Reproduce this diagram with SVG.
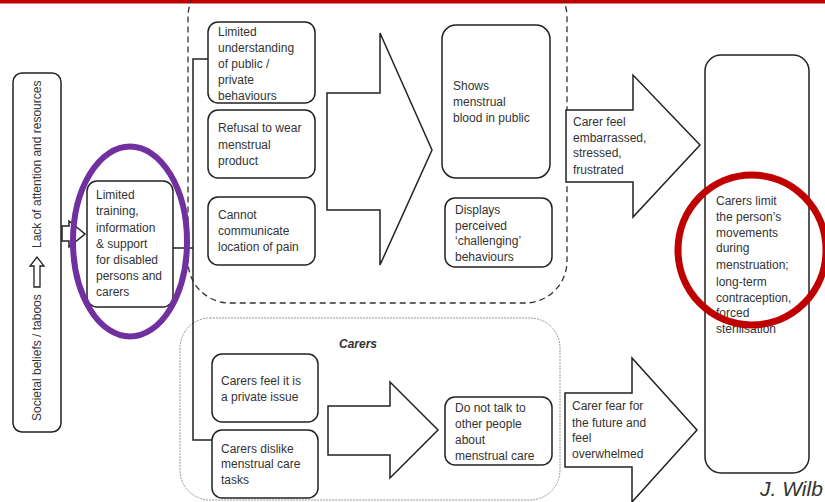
<svg xmlns="http://www.w3.org/2000/svg" width="825" height="502" viewBox="0 0 825 502">
<style>
.box{fill:#fff;stroke:#222;stroke-width:1.5}
.arr{fill:#fff;stroke:#222;stroke-width:1.5;stroke-linejoin:miter}
.t{font-family:"Liberation Sans",Arial,sans-serif;font-size:12px;fill:#333}
.con{fill:none;stroke:#222;stroke-width:1.5}
</style>
<rect x="0" y="0" width="825" height="502" fill="#fff"/>
<rect x="0" y="0" width="825" height="3.5" fill="#c00000"/>

<g id="containers">
<rect x="188" y="-25" width="379" height="328" rx="42" fill="none" stroke="#333" stroke-width="1.3" stroke-dasharray="6,4"/>
<rect x="180" y="318" width="380" height="182" rx="30" fill="none" stroke="#999" stroke-width="1" stroke-dasharray="2,1"/>
<text class="t" x="358" y="348" text-anchor="middle" font-weight="bold" font-style="italic" fill="#222">Carers</text>
</g>

<g id="connectors">
<path class="con" d="M173,248 H193 M208,59 H193 V440 H212"/>
<polygon class="arr" points="62,226 69,226 69,221 85,234 69,247 69,241 62,241"/>
</g>

<g id="societal">
<rect class="box" x="13" y="73" width="48" height="359" rx="9"/>
<text class="t" transform="translate(41,421) rotate(-90)">Societal beliefs / taboos</text>
<polygon points="34,287 40,287 40,266 44,266 37,257 30,266 34,266" fill="#fff" stroke="#222" stroke-width="1.3"/>
<text class="t" transform="translate(41,248) rotate(-90)">Lack of attention and resources</text>
</g>

<g id="training">
<rect class="box" x="87" y="181" width="86" height="126" rx="10"/>
<text class="t" x="96" y="199">Limited</text>
<text class="t" x="96" y="215">training,</text>
<text class="t" x="96" y="232">information</text>
<text class="t" x="96" y="248">&amp; support</text>
<text class="t" x="96" y="264">for disabled</text>
<text class="t" x="96" y="280">persons and</text>
<text class="t" x="96" y="296">carers</text>
</g>

<g id="boxA">
<rect class="box" x="208" y="22" width="107" height="81" rx="10"/>
<text class="t" x="218" y="36">Limited</text>
<text class="t" x="218" y="52">understanding</text>
<text class="t" x="218" y="68">of public /</text>
<text class="t" x="218" y="84">private</text>
<text class="t" x="218" y="100">behaviours</text>
</g>
<g id="boxB">
<rect class="box" x="208" y="110" width="107" height="68" rx="10"/>
<text class="t" x="218" y="132">Refusal to wear</text>
<text class="t" x="218" y="149">menstrual</text>
<text class="t" x="218" y="165">product</text>
</g>
<g id="boxC">
<rect class="box" x="208" y="197" width="107" height="68" rx="10"/>
<text class="t" x="218" y="219">Cannot</text>
<text class="t" x="218" y="235">communicate</text>
<text class="t" x="218" y="251">location of pain</text>
</g>

<g id="arrow1">
<polygon class="arr" points="327,93 380,93 380,33 432,150 380,265 380,210 327,210"/>
</g>

<g id="boxD">
<rect class="box" x="442" y="25" width="108" height="153" rx="14"/>
<text class="t" x="453" y="90">Shows</text>
<text class="t" x="453" y="106">menstrual</text>
<text class="t" x="453" y="122">blood in public</text>
</g>
<g id="boxE">
<rect class="box" x="445" y="198" width="107" height="69" rx="10"/>
<text class="t" x="455" y="214">Displays</text>
<text class="t" x="455" y="230">perceived</text>
<text class="t" x="455" y="245">‘challenging’</text>
<text class="t" x="455" y="261">behaviours</text>
</g>

<g id="arrow2">
<polygon class="arr" points="566,110 633,110 633,75 700,145 633,217 633,182 566,182"/>
<text class="t" x="573" y="126">Carer feel</text>
<text class="t" x="573" y="142">embarrassed,</text>
<text class="t" x="573" y="157">stressed,</text>
<text class="t" x="573" y="174">frustrated</text>
</g>

<g id="boxF">
<rect class="box" x="212" y="354" width="106" height="68" rx="10"/>
<text class="t" x="221" y="385">Carers feel it is</text>
<text class="t" x="221" y="401">a private issue</text>
</g>
<g id="boxG">
<rect class="box" x="212" y="430" width="106" height="68" rx="10"/>
<text class="t" x="221" y="453">Carers dislike</text>
<text class="t" x="221" y="468">menstrual care</text>
<text class="t" x="221" y="484">tasks</text>
</g>

<g id="arrow4">
<polygon class="arr" points="328,406 390,406 390,382 438,430 390,478 390,455 328,455"/>
</g>

<g id="boxH">
<rect class="box" x="445" y="397" width="107" height="68" rx="10"/>
<text class="t" x="455" y="412">Do not talk to</text>
<text class="t" x="455" y="428">other people</text>
<text class="t" x="455" y="444">about</text>
<text class="t" x="455" y="460">menstrual care</text>
</g>

<g id="arrow3">
<polygon class="arr" points="565,393 632,393 632,358 697,430 632,502 632,467 565,467"/>
<text class="t" x="572" y="410">Carer fear for</text>
<text class="t" x="572" y="427">the future and</text>
<text class="t" x="572" y="442">feel</text>
<text class="t" x="572" y="458">overwhelmed</text>
</g>

<g id="outcome">
<rect class="box" x="705" y="55" width="104" height="418" rx="16"/>
<text class="t" x="716" y="205">Carers limit</text>
<text class="t" x="716" y="221">the person’s</text>
<text class="t" x="716" y="237">movements</text>
<text class="t" x="716" y="252">during</text>
<text class="t" x="716" y="269">menstruation;</text>
<text class="t" x="716" y="286">long-term</text>
<text class="t" x="716" y="302">contraception,</text>
<text class="t" x="716" y="317">forced</text>
<text class="t" x="716" y="333">sterilisation</text>
</g>

<g id="highlights">
<ellipse cx="130" cy="241.5" rx="57" ry="95" fill="none" stroke="#7030a0" stroke-width="6"/>
<ellipse cx="752" cy="250" rx="74" ry="75" fill="none" stroke="#c00000" stroke-width="7"/>
</g>

<text x="760" y="496" font-family="Liberation Sans,Arial,sans-serif" font-size="21" font-style="italic" fill="#333">J. Wilb</text>
</svg>
